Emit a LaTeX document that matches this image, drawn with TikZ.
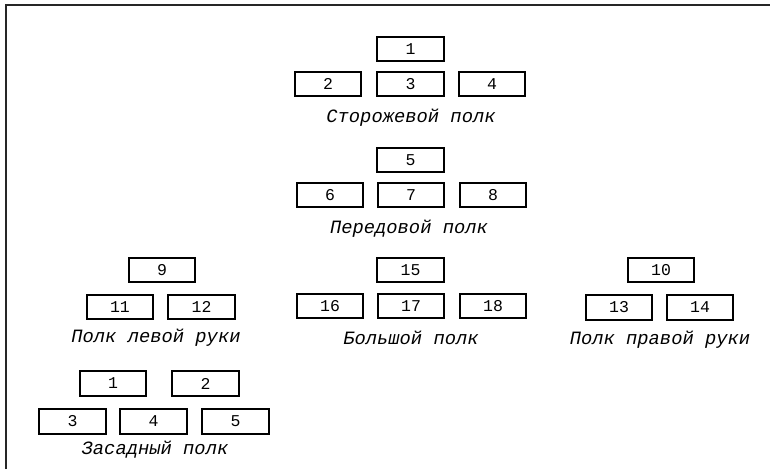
\documentclass[tikz,border=0pt]{standalone}
\usepackage{fontspec}
\newfontfamily\monof{Liberation Mono}
\tikzset{
  unit/.style={draw=black, line width=1.8pt, minimum width=66.5pt, minimum height=24.5pt,
    inner sep=0pt, font=\monof\fontsize{16.5}{16.5}\selectfont},
  caption/.style={anchor=base, inner sep=0pt, font=\monof\itshape\fontsize{18.8}{19}\selectfont},
  frameline/.style={draw=black!85, line width=1.3pt}
}
\begin{document}
\begin{tikzpicture}[x=1pt,y=-1pt]
\useasboundingbox (0,0) rectangle (770,469);
\coordinate (fTL) at (6,5);
\coordinate (fTR) at (770,5);
\coordinate (fBL) at (6,469);
\draw[frameline] (fBL) -- (fTL) -- (fTR);
% Storozhevoy
\node[unit] (s1) at (410.5,49) {1};
\node[unit] (s2) at (328,84) {2};
\node[unit] (s3) at (410.5,84) {3};
\node[unit] (s4) at (492,84) {4};
\node[caption] (sc) at (411,122) {Сторожевой полк};
% Peredovoy
\node[unit] (p5) at (410.5,160) {5};
\node[unit] (p6) at (330,195) {6};
\node[unit] (p7) at (411,195) {7};
\node[unit] (p8) at (493,195) {8};
\node[caption] (pc) at (409,233) {Передовой полк};
% Bolshoy
\node[unit] (b15) at (410.5,270) {15};
\node[unit] (b16) at (330,306) {16};
\node[unit] (b17) at (411,306) {17};
\node[unit] (b18) at (493,306) {18};
\node[caption] (bc) at (411,344) {Большой полк};
% Left hand
\node[unit] (l9) at (162,270) {9};
\node[unit] (l11) at (120,307) {11};
\node[unit] (l12) at (201.5,307) {12};
\node[caption] (lc) at (156,342) {Полк левой руки};
% Right hand
\node[unit] (r10) at (661,270) {10};
\node[unit] (r13) at (619,307.5) {13};
\node[unit] (r14) at (700,307.5) {14};
\node[caption] (rc) at (660,344) {Полк правой руки};
% Zasadny
\node[unit] (z1) at (113,383.5) {1};
\node[unit] (z2) at (205.5,383.5) {2};
\node[unit] (z3) at (72.5,421.5) {3};
\node[unit] (z4) at (153.5,421.5) {4};
\node[unit] (z5) at (235.5,421.5) {5};
\node[caption] (zc) at (155,454) {Засадный полк};
\end{tikzpicture}
\end{document}
